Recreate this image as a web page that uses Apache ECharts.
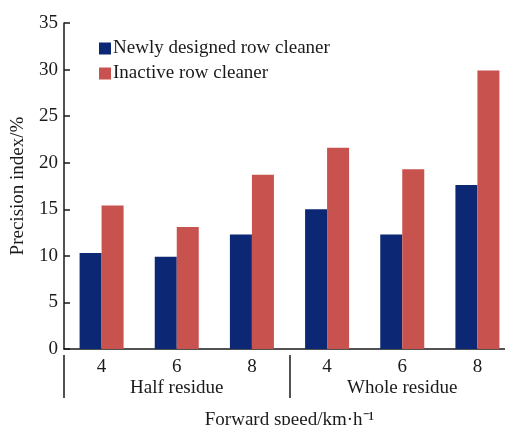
<!DOCTYPE html>
<html>
<head>
<meta charset="utf-8">
<script src="https://cdn.jsdelivr.net/npm/echarts@6/dist/echarts.min.js"></script>
<style>
  html, body { margin: 0; padding: 0; background: #fff; }
  #chart { width: 505px; height: 425px; }
</style>
</head>
<body>
<div id="chart"></div>
<script>
// data
const speeds = ['4', '6', '8', '4', '6', '8']
const groups = ['Half residue', 'Whole residue']
const newlyDesigned = [10.3, 9.9, 12.3, 15.0, 12.3, 17.6]
const inactive = [15.4, 13.1, 18.7, 21.6, 19.3, 29.9]
const yTicks = { min: 0, max: 35, interval: 5 }

const serif = '"Liberation Serif", "Times New Roman", serif'
const ink = '#1a1a1a'

var myChart = echarts.init(document.getElementById('chart'))

const option = {
  animation: false,
  textStyle: { fontFamily: serif, color: ink },
  color: ['#0c2874', '#c8524d'],
  legend: {
    orient: 'vertical',
    left: 94,
    top: 34,
    itemWidth: 12,
    itemHeight: 12,
    itemGap: 6,
    icon: 'rect',
    textStyle: { fontFamily: serif, fontSize: 19, color: ink, padding: [0, 0, 0, -3] },
    data: ['Newly designed row cleaner', 'Inactive row cleaner']
  },
  // the source figure is cropped on the right, so the plot runs past the edge
  grid: { left: 64, top: 23, right: -10, bottom: 76, outerBoundsMode: 'none' },
  xAxis: [
    {
      type: 'category',
      data: speeds,
      axisLine: { lineStyle: { color: ink, width: 1.5 } },
      axisTick: { inside: true, length: 6, lineStyle: { color: ink, width: 1.5 } },
      axisLabel: { fontFamily: serif, fontSize: 19, color: ink, margin: 9 }
    },
    {
      type: 'category',
      data: groups,
      position: 'bottom',
      offset: 6,
      axisLine: { show: true, lineStyle: { color: 'rgba(0,0,0,0)' } },
      axisTick: { show: true, length: 43, lineStyle: { color: ink, width: 1.5 } },
      axisLabel: { fontFamily: serif, fontSize: 19, color: ink, margin: 24 },
      name: 'Forward speed/km·h⁻¹',
      nameLocation: 'middle',
      nameGap: 56,
      nameTextStyle: { fontFamily: serif, fontSize: 19, color: ink }
    }
  ],
  yAxis: {
    type: 'value',
    min: yTicks.min,
    max: yTicks.max,
    interval: yTicks.interval,
    name: 'Precision index/%',
    nameLocation: 'middle',
    nameGap: 36,
    nameTextStyle: { fontFamily: serif, fontSize: 19, color: ink },
    splitLine: { show: false },
    axisLine: { show: true, lineStyle: { color: ink, width: 1.5 } },
    axisTick: { show: true, inside: true, length: 6, lineStyle: { color: ink, width: 1.5 } },
    axisLabel: { fontFamily: serif, fontSize: 19, color: ink, margin: 6 }
  },
  series: [
    {
      name: 'Newly designed row cleaner',
      type: 'bar',
      barWidth: 22,
      barGap: '0%',
      data: newlyDesigned
    },
    {
      name: 'Inactive row cleaner',
      type: 'bar',
      barWidth: 22,
      barGap: '0%',
      data: inactive
    }
  ]
}

myChart.setOption(option)
</script>
</body>
</html>
